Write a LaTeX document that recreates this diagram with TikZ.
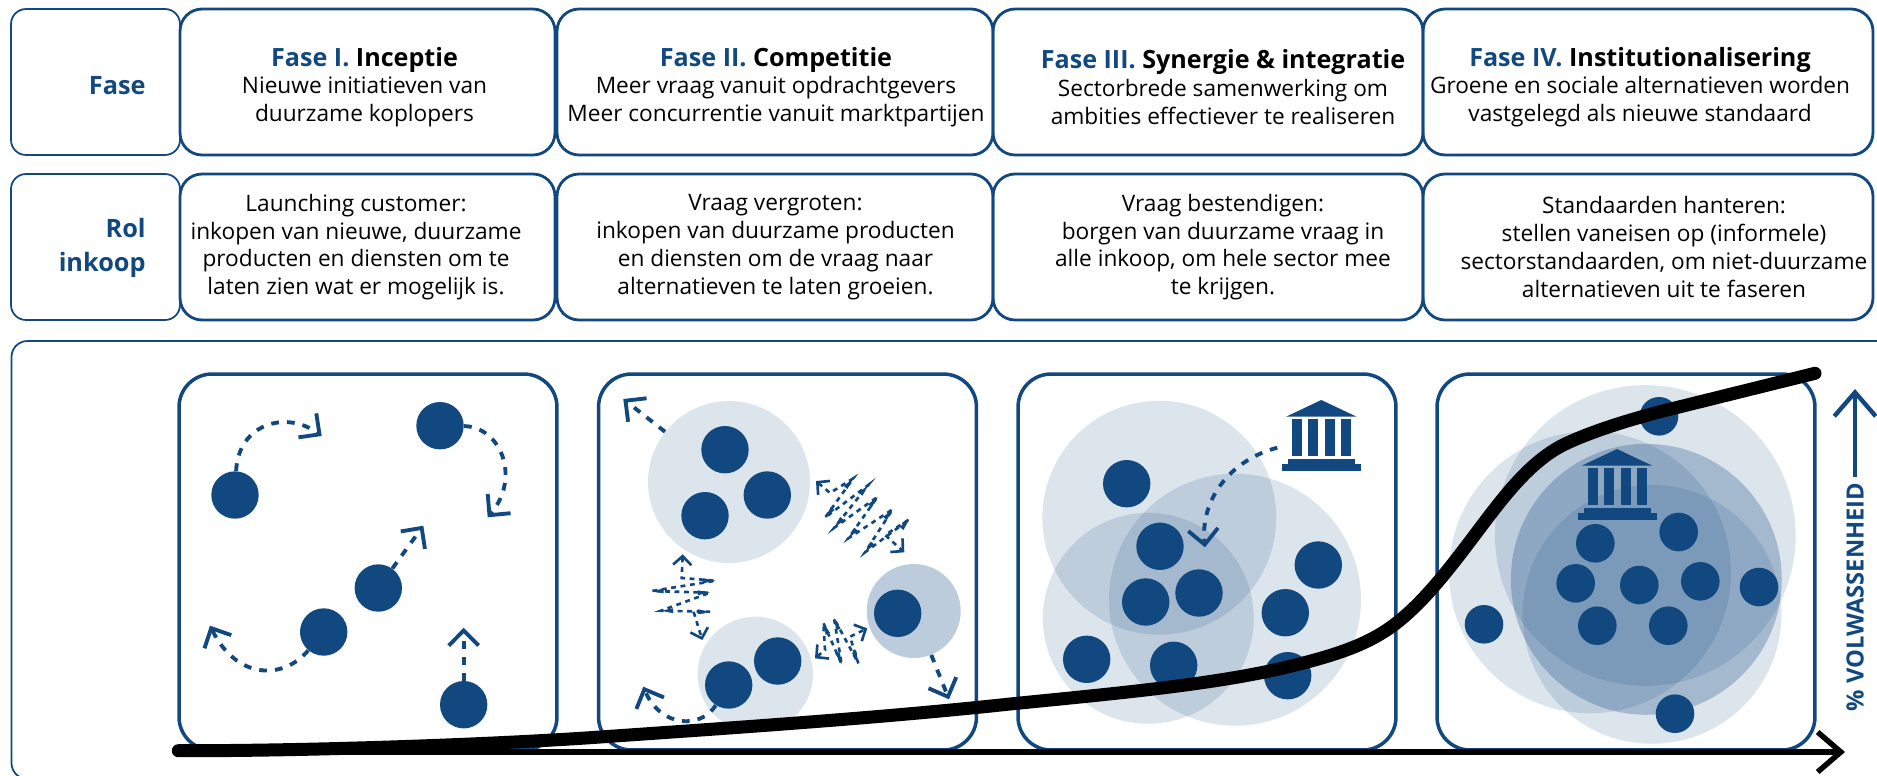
\documentclass[tikz,border=0pt]{standalone}
\usepackage{fontspec}
\setmainfont{Open Sans}
\usetikzlibrary{arrows.meta}
\definecolor{fasecol}{RGB}{18,72,128}
\newcommand{\kop}{\fontsize{14.3}{15.8}\selectfont\bfseries}
\tikzset{
labelbox/.style={draw=fasecol,line width=1pt,rounded corners=.3cm,minimum width=3.38cm,minimum height=2.92cm},
colbox/.style={draw=fasecol,line width=1.6pt,rounded corners=.44cm,minimum height=2.92cm},
panel/.style={draw=fasecol,line width=2pt,rounded corners=.66cm,minimum width=7.56cm,minimum height=7.52cm},
coltxt/.style={align=center,inner sep=0,font=\fontsize{12.9}{15.8}\selectfont},
sidetxt/.style={align=right,anchor=east,inner sep=0,text=fasecol,font=\fontsize{14.4}{18.9}\selectfont\bfseries},
dot/.style={circle,fill=fasecol,inner sep=0,minimum size=.948cm},
smalldot/.style={circle,fill=fasecol,inner sep=0,minimum size=.772cm},
tint/.style={circle,fill=fasecol,fill opacity=.15,inner sep=0,minimum size=#1*.04cm},
darktint/.style={circle,fill=fasecol,fill opacity=.2775,inner sep=0,minimum size=#1*.04cm},
flow/.style={draw=fasecol,line width=2.2pt,dash pattern=on 4.4pt off 4.6pt,-{Straight Barb[length=8.6pt,width=17pt,line width=2.2pt]}},
zigflow/.style={draw=fasecol,line width=1.5pt,dash pattern=on 2.8pt off 2.6pt,{Straight Barb[length=5pt,width=10.4pt,line width=1.5pt]}-{Straight Barb[length=5pt,width=10.4pt,line width=1.5pt]}},
spike/.style={fill=fasecol}
}
\begin{document}
\begin{tikzpicture}[x=.02cm,y=-.02cm]
\useasboundingbox (0,0) rectangle (1877,775);

\node[labelbox] (faselabel) at (95.5,82) {};
\node[labelbox] (rollabel) at (95.5,247) {};
\foreach \n/\cx/\w in {1/367.5/7.5,2/775/8.72,3/1208/8.6,4/1648/9}{
\node[colbox,minimum width=\w cm] (fase\n) at (\cx,82) {};
\node[colbox,minimum width=\w cm] (rol\n) at (\cx,247) {};
}

\node[sidetxt] (fasetxt) at (146,85.5) {Fase};
\node[sidetxt] (roltxt) at (146,248) {Rol\\inkoop};

\node[coltxt] (fasetxt1) at (364.5,87) {{\kop\textcolor{fasecol}{Fase I.} Inceptie}\\Nieuwe initiatieven van\\duurzame koplopers};
\node[coltxt] (fasetxt2) at (776,87) {{\kop\textcolor{fasecol}{Fase II.} Competitie}\\Meer vraag vanuit opdrachtgevers\\Meer concurrentie vanuit marktpartijen};
\node[coltxt] (fasetxt3) at (1223,87) {{\kop\textcolor{fasecol}{Fase III.} Synergie \& integratie}\\Sectorbrede samenwerking om\\ambities effectiever te realiseren};
\node[coltxt] (fasetxt4) at (1640,87) {{\kop\textcolor{fasecol}{Fase IV.} Institutionalisering}\\Groene en sociale alternatieven worden\\vastgelegd als nieuwe standaard};

\node[coltxt] (roltxt1) at (356,247) {Launching customer:\\inkopen van nieuwe, duurzame\\producten en diensten om te\\laten zien wat er mogelijk is.};
\node[coltxt] (roltxt2) at (775.5,247) {Vraag vergroten:\\inkopen van duurzame producten\\en diensten om de vraag naar\\alternatieven te laten groeien.};
\node[coltxt] (roltxt3) at (1223,247) {Vraag bestendigen:\\borgen van duurzame vraag in\\alle inkoop, om hele sector mee\\te krijgen.};
\node[coltxt] (roltxt4) at (1664,247) {Standaarden hanteren:\\stellen vaneisen op (informele)\\sectorstandaarden, om niet-duurzame\\alternatieven uit te faseren};

\draw[fasecol,line width=1pt,rounded corners=.32cm] (11.5,341) rectangle (1895,779);
\foreach \n/\cx in {1/368,2/787.5,3/1207,4/1626}{
\node[panel] (panel\n) at (\cx,562) {};
}

\node[dot] (a1) at (235,495) {};
\node[dot] (a2) at (440,425.7) {};
\node[dot] (a3) at (378.3,588) {};
\node[dot] (a4) at (323.7,632) {};
\node[dot] (a5) at (463.7,704.7) {};
\coordinate (e1) at (321.7,436);
\coordinate (e2) at (487.7,517.3);
\coordinate (e3) at (423.3,525.7);
\coordinate (e4) at (210,625.7);
\coordinate (e5) at (463.7,627.7);
\draw[flow] (a1) .. controls (238.3,423.3) and (286.7,410) .. (e1);
\draw[flow] (a2) .. controls (500,426.7) and (521.7,476.7) .. (e2);
\draw[flow] (a3) -- (e3);
\draw[flow] (a4) .. controls (283.3,680) and (236.7,680) .. (e4);
\draw[flow] (a5) -- (e5);

\node[tint=81] (g1) at (729,482) {};
\node[tint=57.7] (g2) at (755.3,674.3) {};
\node[darktint=47] (g3) at (913.7,611) {};
\node[dot] (b1) at (725,449.7) {};
\node[dot] (b2) at (767.3,495) {};
\node[dot] (b3) at (705,515.7) {};
\node[dot] (b4) at (777.7,661) {};
\node[dot] (b5) at (728.7,685) {};
\node[dot] (b6) at (897.7,613.3) {};
\coordinate (f1) at (623.3,399);
\coordinate (f2) at (643.3,686.7);
\coordinate (f3) at (949,699.3);
\draw[flow] (g1) -- (f1);
\draw[flow] (b5) .. controls (700,730) and (660,726.7) .. (f2);
\draw[flow] (g3) -- (f3);

\coordinate (z1a) at (816,481);
\coordinate (z1b) at (904.3,552.3);
\coordinate (z2a) at (682.7,554.3);
\coordinate (z2b) at (702.3,640);
\coordinate (z3a) at (815,658.3);
\coordinate (z3b) at (867.3,628.3);
\draw[zigflow] (z1a) -- (830,493) -- (853.3,478.3) -- (825,517.7) -- (868.3,485) -- (834.3,527.7) -- (877.7,496.7) -- (848.3,538.3) -- (892.7,509.3) -- (865,552.3) -- (909.3,519.3) -- (885,535) -- (z1b);
\draw[zigflow] (z2a) -- (681.7,578) -- (715.7,580.7) -- (651.7,591) -- (710,592.7) -- (661,610.7) -- (710,611.7) -- (694,613) -- (z2b);
\draw[zigflow] (z3a) -- (825,650) -- (823.3,622.7) -- (841.7,664.3) -- (834,618.3) -- (858.3,663.3) -- (850,636.7) -- (z3b);
\foreach \tip/\ang in {(853.3,478.3)/50,(868.3,485)/50,(877.7,496.7)/50,(892.7,509.3)/50,(909.3,519.3)/50,(825,517.7)/230,(834.3,527.7)/230,(848.3,538.3)/230,(865,552.3)/230,(715.7,580.7)/0,(710,592.7)/0,(710,611.7)/0,(651.7,591)/180,(661,610.7)/180,(823.3,622.7)/112,(834,618.3)/112,(841.7,664.3)/-70,(858.3,663.3)/-70}{
\fill[spike,shift={\tip},rotate=\ang] (0,0) -- (-12,2.4) -- (-12,-2.4) -- cycle;
}

\node[tint=117] (h1) at (1159.3,517.7) {};
\node[tint=105.5] (h2) at (1148.3,618.3) {};
\node[tint=126] (h3) at (1235,599.7) {};
\foreach \n/\p in {1/{1126.7,483.7},2/{1160,546.3},3/{1145.7,602},4/{1199,593},5/{1318.3,565},6/{1285.3,612.7},7/{1287.7,675.7},8/{1086.7,659.3},9/{1173.7,665.3}}{
\node[dot] (c\n) at (\p) {};
}
\begin{scope}[shift={(1321.3,436.7)}]
\coordinate (bank1) at (-44,11);
\fill[fasecol] (0,-36.7) -- (35.3,-20) -- (-35.3,-20) -- cycle;
\foreach \cx in {-24.3,-8.3,8.7,24.7}{
\fill[fasecol] (\cx-5,-17.7) rectangle (\cx+5,19.3);
}
\fill[fasecol] (-33.3,22.3) rectangle (33.7,27.5);
\fill[fasecol] (-39.3,27.3) rectangle (39.7,34.3);
\end{scope}
\coordinate (h4) at (1205,547.3);
\draw[flow] (bank1) .. controls (1230,460) and (1200,500) .. (h4);

\node[tint=150.4] (k1) at (1645.3,535.5) {};
\node[tint=141] (k2) at (1590,572.3) {};
\node[darktint=135.5] (k3) at (1646.3,579.3) {};
\node[tint=129.5] (k4) at (1652,614.3) {};
\foreach \n/\p in {1/{1659,416.3},2/{1484,624.3},3/{1675,713.7},4/{1759,587},5/{1678.7,532},6/{1595.3,543.3},7/{1575.7,583.3},8/{1639.3,585},9/{1700.3,581.3},10/{1597.3,625.7},11/{1668.3,625.7}}{
\node[smalldot] (d\n) at (\p) {};
}
\begin{scope}[shift={(1617,485.7)}]
\fill[fasecol] (0,-36.7) -- (35.3,-20) -- (-35.3,-20) -- cycle;
\foreach \cx in {-24.3,-8.3,8.7,24.7}{
\fill[fasecol] (\cx-5,-17.7) rectangle (\cx+5,19.3);
}
\fill[fasecol] (-33.3,22.3) rectangle (33.7,27.5);
\fill[fasecol] (-39.3,27.3) rectangle (39.7,34.3);
\end{scope}

\coordinate (axstart) at (178,752);
\coordinate (axend) at (1845,752);
\draw[line width=3.1pt,-{Straight Barb[length=13.2pt,width=22.7pt,line width=3.1pt]}] (axstart) -- (axend);
\draw[line width=7.4pt,line cap=round] (178.3,750.7) .. controls (300,751) and (480,745) .. (590,737.7) .. controls (730,728) and (880,718) .. (1010,704) .. controls (1110,694) and (1210,685) .. (1283,668) .. controls (1325,658) and (1360,648) .. (1386.7,630) .. controls (1420,608) and (1450,568) .. (1480,528) .. controls (1505,495) and (1530,462) .. (1563,445) .. controls (1590,432) and (1625,421) .. (1660,411.7) -- (1815,373.3);

\node[rotate=90,text=fasecol,inner sep=3pt,font=\fontsize{13.5}{15}\selectfont\bfseries] (vol) at (1855,597) {\% VOLWASSENHEID};
\coordinate (voltop) at (1855,389);
\draw[fasecol,line width=2.5pt,-{Straight Barb[length=13.6pt,width=23.6pt,line width=2.5pt]}] (vol.east) -- (voltop);
\end{tikzpicture}
\end{document}
